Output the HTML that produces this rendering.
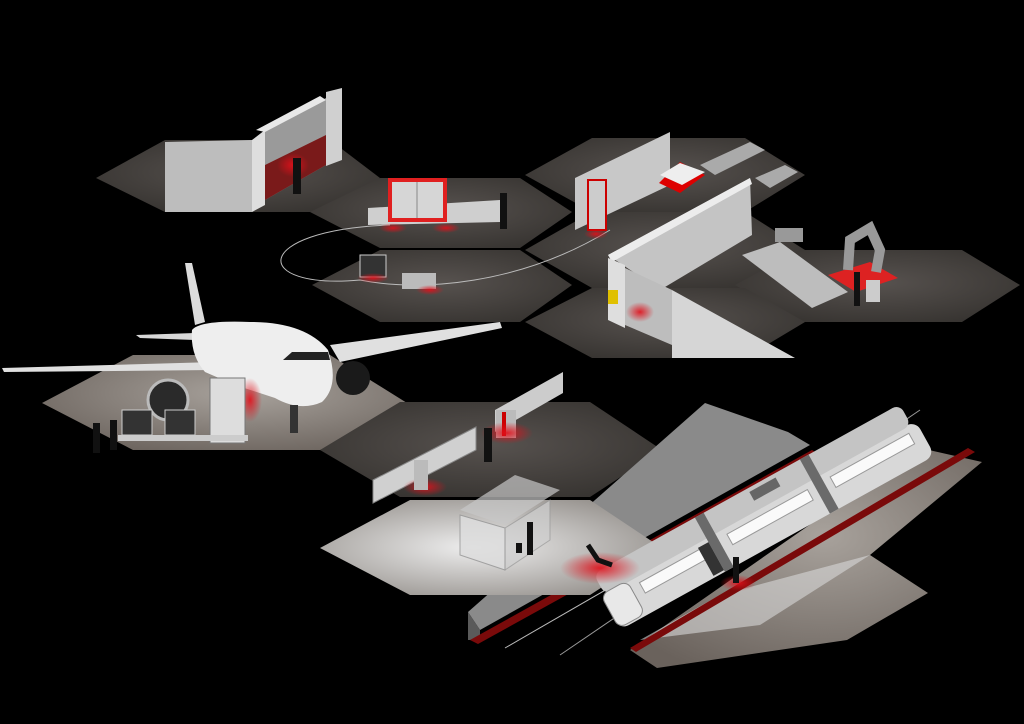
<!DOCTYPE html>
<html><head><meta charset="utf-8"><style>
html,body{margin:0;padding:0;background:#000;}
svg{display:block}
</style></head><body>
<svg width="1024" height="724" viewBox="0 0 1024 724" xmlns="http://www.w3.org/2000/svg">
<defs>
<radialGradient id="hx" cx="50%" cy="45%" r="65%">
<stop offset="0" stop-color="#57524f"/><stop offset="1" stop-color="#35322f"/></radialGradient>
<radialGradient id="hxl" cx="55%" cy="40%" r="70%">
<stop offset="0" stop-color="#a8a29c"/><stop offset="1" stop-color="#6a625c"/></radialGradient>
<radialGradient id="hxw" cx="45%" cy="50%" r="70%">
<stop offset="0" stop-color="#eeeeee"/><stop offset="1" stop-color="#8a8580"/></radialGradient>
<radialGradient id="red" cx="50%" cy="50%" r="50%">
<stop offset="0" stop-color="#e0101a" stop-opacity=".9"/><stop offset="1" stop-color="#e0101a" stop-opacity="0"/></radialGradient>
</defs>
<rect width="1024" height="724" fill="#000"/>
<polygon points="96,178 165,140 330,140 380,178 330,212 165,212" fill="url(#hx)"/>
<polygon points="310,212 380,178 520,178 572,212 520,248 380,248" fill="url(#hx)"/>
<polygon points="525,175 592,138 745,138 805,175 745,212 592,212" fill="url(#hx)"/>
<polygon points="312,285 380,250 520,250 572,285 520,322 380,322" fill="url(#hx)"/>
<polygon points="525,250 592,212 745,212 805,250 745,288 592,288" fill="url(#hx)"/>
<polygon points="735,285 800,250 962,250 1020,285 962,322 800,322" fill="url(#hx)"/>
<polygon points="525,322 592,288 745,288 805,322 745,358 592,358" fill="url(#hx)"/>
<polygon points="42,403 133,355 330,355 407,403 330,450 133,450" fill="url(#hxl)"/>
<polygon points="320,450 400,402 590,402 662,450 590,497 400,497" fill="url(#hx)"/>
<polygon points="468,612 705,403 788,432 810,445 480,630" fill="#8a8a8a"/>
<polygon points="468,612 480,630 480,640 468,640" fill="#5a5a5a"/>
<polygon points="470,640 812,450 820,455 478,644" fill="#7a0a0a"/>
<polygon points="320,548 410,500 590,500 662,548 590,595 410,595" fill="url(#hxw)"/>
<line x1="505" y1="648" x2="900" y2="420" stroke="#bbb" stroke-width="1"/>
<line x1="560" y1="655" x2="920" y2="410" stroke="#999" stroke-width="1"/>
<polygon points="630,650 657,668 847,640 928,593 870,555 982,462 920,448" fill="url(#hxl)"/>
<polygon points="640,640 720,595 870,555 760,625" fill="#d8d8d8" opacity=".6"/>
<polygon points="630,648 968,448 975,452 636,652" fill="#7a0a0a"/>
<g transform="translate(620,630) rotate(-29)">
<rect x="0" y="-40" width="360" height="40" rx="10" fill="#d8d8d8"/>
<rect x="4" y="-62" width="350" height="24" rx="8" fill="#c4c4c4"/>
<rect x="120" y="-62" width="10" height="62" fill="#6a6a6a"/>
<rect x="240" y="-62" width="10" height="62" fill="#6a6a6a"/>
<rect x="40" y="-32" width="70" height="12" fill="#fafafa" stroke="#999"/>
<rect x="140" y="-32" width="92" height="12" fill="#fafafa" stroke="#999"/>
<rect x="258" y="-32" width="90" height="12" fill="#fafafa" stroke="#999"/>
<rect x="108" y="-34" width="12" height="32" fill="#333"/>
<rect x="0" y="-40" width="30" height="38" rx="8" fill="#e8e8e8" stroke="#888"/>
<rect x="180" y="-58" width="30" height="10" fill="#666"/>
</g>
<ellipse cx="738" cy="583" rx="18" ry="8" fill="url(#red)"/>
<rect x="733" y="557" width="6" height="26" fill="#111"/>
<ellipse cx="600" cy="568" rx="40" ry="16" fill="url(#red)"/>
<path d="M588,545 L598,560 L612,565" stroke="#111" stroke-width="5" fill="none"/>
<polygon points="460,510 515,475 560,490 505,525" fill="#c8c8c8" opacity=".7"/>
<polygon points="460,515 505,528 505,570 460,555" fill="#ddd" opacity=".85" stroke="#999"/>
<polygon points="505,528 550,500 550,540 505,570" fill="#cfcfcf" opacity=".7" stroke="#999"/>
<rect x="527" y="522" width="6" height="33" fill="#111"/><rect x="516" y="543" width="6" height="10" fill="#111"/>
<polygon points="373,480 476,427 476,450 373,503" fill="#d0d0d0" stroke="#888"/>
<polygon points="495,410 563,372 563,393 495,432" fill="#ccc"/>
<rect x="496" y="410" width="20" height="28" fill="#bbb"/><rect x="502" y="412" width="4" height="24" fill="#c00"/>
<ellipse cx="507" cy="433" rx="26" ry="11" fill="url(#red)"/>
<ellipse cx="425" cy="487" rx="22" ry="9" fill="url(#red)"/>
<rect x="414" y="460" width="14" height="30" fill="#bbb"/>
<rect x="484" y="428" width="8" height="34" fill="#111"/>
<polygon points="2,368 215,362 215,370 4,372" fill="#e0e0e0"/>
<polygon points="330,345 500,322 502,328 340,362" fill="#e0e0e0"/>
<polygon points="185,263 192,263 205,322 195,325" fill="#dcdcdc"/>
<polygon points="136,335 195,333 195,340 140,338" fill="#d8d8d8"/>
<circle cx="168" cy="400" r="20" fill="#2a2a2a" stroke="#bbb" stroke-width="3"/>
<circle cx="353" cy="378" r="17" fill="#1a1a1a"/>
<path d="M192,330 Q200,320 250,322 Q305,322 328,350 Q340,385 322,402 Q300,412 275,398 L235,385 L205,372 Q190,355 192,330 Z" fill="#eeeeee"/>
<polygon points="283,360 292,352 328,352 330,360" fill="#222"/>
<rect x="290" y="405" width="8" height="28" fill="#333"/>
<ellipse cx="250" cy="400" rx="12" ry="22" fill="url(#red)"/>
<rect x="210" y="378" width="35" height="65" fill="#ddd" stroke="#777"/>
<rect x="122" y="410" width="30" height="25" fill="#333" stroke="#ccc"/>
<rect x="165" y="410" width="30" height="25" fill="#333" stroke="#ccc"/>
<rect x="118" y="435" width="130" height="6" fill="#ccc"/>
<rect x="93" y="423" width="7" height="30" fill="#111"/><rect x="110" y="420" width="7" height="30" fill="#111"/>
<polygon points="165,142 252,140 252,212 165,212" fill="#bdbdbd"/>
<polygon points="252,140 265,130 265,205 252,212" fill="#dedede"/>
<polygon points="265,130 326,98 326,165 265,200" fill="#9a9a9a"/>
<polygon points="265,165 326,135 326,165 265,200" fill="#7a1a1a"/>
<polygon points="256,130 320,96 326,100 265,132" fill="#e8e8e8"/>
<polygon points="326,92 342,88 342,160 326,166" fill="#d0d0d0"/>
<ellipse cx="293" cy="165" rx="16" ry="12" fill="url(#red)"/>
<rect x="293" y="158" width="8" height="36" fill="#111"/>
<path d="M390,225 C250,230 250,290 360,280 C420,292 520,285 610,230" stroke="#bbb" fill="none"/>
<polygon points="368,208 500,200 500,222 368,225" fill="#cfcfcf"/>
<rect x="390" y="180" width="55" height="40" fill="#d6d6d6" stroke="#e02020" stroke-width="4"/>
<line x1="417" y1="182" x2="417" y2="218" stroke="#888"/>
<ellipse cx="393" cy="228" rx="14" ry="5" fill="url(#red)"/><ellipse cx="446" cy="228" rx="14" ry="5" fill="url(#red)"/>
<rect x="500" y="193" width="7" height="36" fill="#111"/>
<rect x="360" y="255" width="26" height="22" fill="#333" stroke="#ccc"/><ellipse cx="373" cy="278" rx="16" ry="5" fill="url(#red)"/>
<rect x="402" y="273" width="34" height="16" fill="#bbb"/><ellipse cx="430" cy="290" rx="14" ry="5" fill="url(#red)"/>
<polygon points="575,178 670,132 670,185 575,230" fill="#c8c8c8"/>
<rect x="588" y="180" width="18" height="50" fill="#ccc" stroke="#c00" stroke-width="2"/>
<ellipse cx="596" cy="234" rx="12" ry="5" fill="url(#red)"/>
<polygon points="659,183 680,162 705,175 680,193" fill="#d00"/>
<polygon points="660,175 680,163 705,172 682,185" fill="#eee"/>
<polygon points="700,165 750,142 765,150 715,175" fill="#aaa"/>
<polygon points="755,178 785,165 798,172 770,188" fill="#aaa"/>
<polygon points="608,255 750,178 752,235 660,290" fill="#c4c4c4"/>
<polygon points="608,255 750,178 752,184 612,262" fill="#ececec"/>
<polygon points="608,258 625,265 625,328 608,320" fill="#dedede"/>
<polygon points="625,268 672,290 672,345 625,325" fill="#bdbdbd"/>
<polygon points="672,290 795,358 672,358" fill="#d6d6d6"/>
<rect x="608" y="290" width="10" height="14" fill="#e0c000"/>
<ellipse cx="640" cy="312" rx="14" ry="10" fill="url(#red)"/>
<polygon points="742,255 780,242 848,292 812,308" fill="#bdbdbd"/>
<rect x="775" y="228" width="28" height="14" fill="#999"/>
<polygon points="828,275 870,262 898,278 856,292" fill="#d22"/>
<path d="M848,270 L850,240 L870,228 L880,250 L876,272" stroke="#999" stroke-width="10" fill="none"/>
<rect x="854" y="272" width="6" height="34" fill="#111"/>
<rect x="866" y="280" width="14" height="22" fill="#ccc"/>
</svg>
</body></html>
